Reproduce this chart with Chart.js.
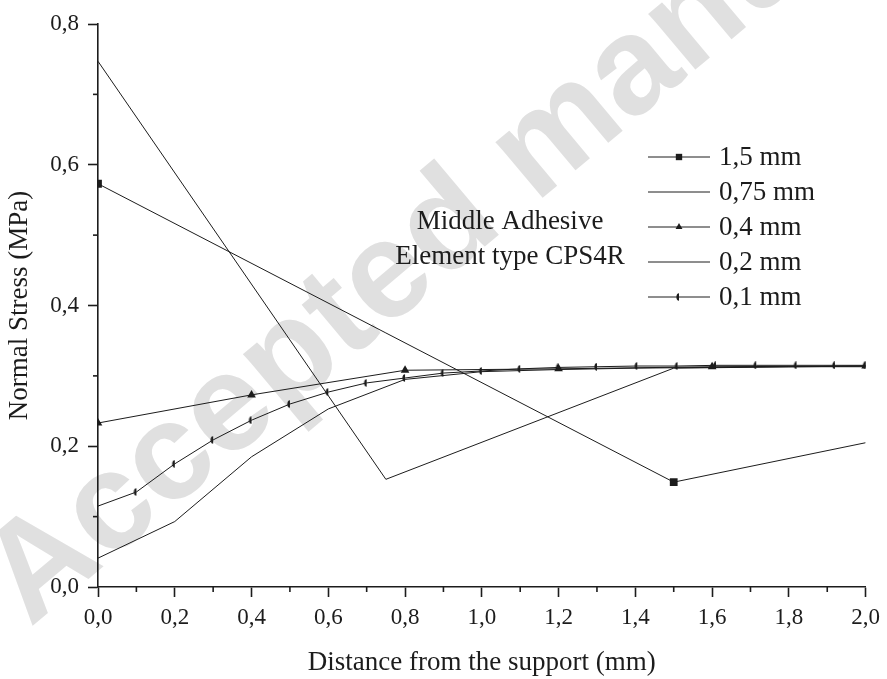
<!DOCTYPE html>
<html>
<head>
<meta charset="utf-8">
<script src="https://cdn.jsdelivr.net/npm/chart.js@4.4.1/dist/chart.umd.min.js"></script>
<style>
html, body { margin: 0; padding: 0; background: #fff; }
</style>
</head>
<body>
<canvas id="stressChart" width="887" height="679"></canvas>
<script>
// Data
const series_labels = ['1,5 mm', '0,75 mm', '0,4 mm', '0,2 mm', '0,1 mm']

const x_15 = [0, 1.5, 2.0]
const y_15 = [0.573, 0.149, 0.205]

const x_075 = [0, 0.75, 1.5, 2.0]
const y_075 = [0.747, 0.153, 0.311, 0.314]

const x_04 = [0, 0.4, 0.8, 1.2, 1.6, 2.0]
const y_04 = [0.233, 0.273, 0.308, 0.310, 0.313, 0.314]

const x_02 = [0, 0.2, 0.4, 0.6, 0.8, 1.0, 1.2, 1.4, 1.6, 1.8, 2.0]
const y_02 = [0.041, 0.093, 0.185, 0.253, 0.295, 0.306, 0.309, 0.311, 0.312, 0.313, 0.313]

const x_01 = [0, 0.1, 0.2, 0.3, 0.4, 0.5, 0.6, 0.7, 0.8, 0.9, 1.0, 1.1, 1.2, 1.3, 1.405, 1.51, 1.61, 1.715, 1.82, 1.92, 2.0]
const y_01 = [0.115, 0.135, 0.175, 0.209, 0.237, 0.260, 0.277, 0.290, 0.297, 0.304, 0.307, 0.310, 0.312, 0.313, 0.314, 0.314, 0.315, 0.315, 0.315, 0.315, 0.315]

const x_ticks = [0, 0.2, 0.4, 0.6, 0.8, 1.0, 1.2, 1.4, 1.6, 1.8, 2.0]
const y_ticks = [0, 0.2, 0.4, 0.6, 0.8]

const note_lines = ['Middle Adhesive', 'Element type CPS4R']
const watermark = 'Accepted manuscript'

const SERIF = '"Liberation Serif", "DejaVu Serif", serif'
const INK = '#1c1c1c'

const to_points = (xs, ys) => xs.map((x, i) => ({x: x, y: ys[i]}))
const is_major = v => Math.round(v * 10) % 2 === 0
const fmt = v => v.toFixed(1).replace('.', ',')

// half filled circle marker used for 0,1 mm
function half_dot() {
    const c = document.createElement('canvas')
    c.width = 8
    c.height = 8
    const g = c.getContext('2d')
    g.fillStyle = INK
    g.beginPath()
    g.ellipse(4, 4, 2.6, 3.8, 0, Math.PI / 2, Math.PI * 1.5)
    g.closePath()
    g.fill()
    return c
}
const dot_img = half_dot()

function make_set(label, pts, style, radius) {
    return {
        label: label,
        data: pts,
        borderColor: INK,
        backgroundColor: INK,
        borderWidth: 1,
        pointStyle: style,
        pointRadius: radius,
        pointBorderWidth: 0,
        pointHoverRadius: radius,
        tension: 0,
        clip: 0
    }
}

const datasets = [
    make_set(series_labels[0], to_points(x_15, y_15), 'rect', [5.5, 5.5, 0]),
    make_set(series_labels[1], to_points(x_075, y_075), false, 0),
    make_set(series_labels[2], to_points(x_04, y_04), 'triangle', 5),
    make_set(series_labels[3], to_points(x_02, y_02), false, 0),
    make_set(series_labels[4], to_points(x_01, y_01), dot_img, 4)
]

// watermark behind everything
const watermark_plugin = {
    id: 'watermark',
    beforeDraw(chart) {
        const ctx = chart.ctx
        ctx.save()
        ctx.translate(30, 628)
        ctx.rotate(-40 * Math.PI / 180)
        ctx.fillStyle = '#e0e0e0'
        ctx.font = 'bold 138px "Liberation Sans", Arial, sans-serif'
        ctx.textBaseline = 'alphabetic'
        ctx.fillText(watermark, 0, 0)
        ctx.restore()
    }
}

// minor ticks, note text and legend
const extras_plugin = {
    id: 'extras',
    afterDraw(chart) {
        const ctx = chart.ctx
        const xs = chart.scales.x
        const ys = chart.scales.y
        const area = chart.chartArea
        ctx.save()
        ctx.strokeStyle = INK
        ctx.lineWidth = 1.6
        for (let k = 1; k < 20; k += 2) {
            const px = xs.getPixelForValue(k / 10)
            ctx.beginPath()
            ctx.moveTo(px, area.bottom)
            ctx.lineTo(px, area.bottom + 5)
            ctx.stroke()
        }
        for (let k = 1; k < 8; k += 2) {
            const py = ys.getPixelForValue(k / 10)
            ctx.beginPath()
            ctx.moveTo(area.left - 5, py)
            ctx.lineTo(area.left, py)
            ctx.stroke()
        }

        ctx.fillStyle = INK
        ctx.font = '27px ' + SERIF
        ctx.textAlign = 'center'
        ctx.textBaseline = 'alphabetic'
        ctx.fillText(note_lines[0], 510, 229)
        ctx.fillText(note_lines[1], 510, 264)

        // legend
        const row0 = 157, gap = 35
        chart.data.datasets.forEach((ds, i) => {
            const y = row0 + i * gap
            ctx.strokeStyle = INK
            ctx.lineWidth = 1
            ctx.beginPath()
            ctx.moveTo(648, y)
            ctx.lineTo(710, y)
            ctx.stroke()
            const r = Array.isArray(ds.pointRadius) ? ds.pointRadius[0] : ds.pointRadius
            if (ds.pointStyle && r > 0) {
                Chart.helpers.drawPoint(ctx, {pointStyle: ds.pointStyle, radius: r - 1, borderWidth: 0}, 679, y)
            }
            ctx.fillStyle = INK
            ctx.textAlign = 'left'
            ctx.textBaseline = 'middle'
            ctx.fillText(ds.label, 719, y + 1)
        })
        ctx.restore()
    }
}

const axis_font = {family: SERIF, size: 23}

const stressChart = new Chart(document.getElementById('stressChart').getContext('2d'), {
    type: 'line',
    data: {datasets: datasets},
    options: {
        responsive: false,
        animation: false,
        events: [],
        layout: {padding: {left: 0, top: 24, right: 19, bottom: 0}},
        plugins: {legend: {display: false}, tooltip: {enabled: false}},
        scales: {
            x: {
                type: 'linear',
                min: 0,
                max: 2.0,
                border: {display: true, color: INK, width: 1.6},
                grid: {
                    drawOnChartArea: false,
                    drawTicks: true,
                    tickLength: 10,
                    tickWidth: 1.6,
                    tickColor: c => is_major(c.tick.value) ? INK : 'rgba(0,0,0,0)'
                },
                ticks: {
                    stepSize: 0.1,
                    autoSkip: false,
                    maxRotation: 0,
                    color: INK,
                    font: axis_font,
                    padding: 7,
                    callback: v => x_ticks.some(t => Math.abs(t - v) < 1e-6) ? fmt(v) : ''
                },
                title: {
                    display: true,
                    text: 'Distance from the support (mm)',
                    color: INK,
                    font: {family: SERIF, size: 27},
                    padding: {top: 0, bottom: 0}
                },
                afterFit: s => { s.height = 92 }
            },
            y: {
                type: 'linear',
                min: 0,
                max: 0.8,
                border: {display: true, color: INK, width: 1.6},
                grid: {
                    drawOnChartArea: false,
                    drawTicks: true,
                    tickLength: 10,
                    tickWidth: 1.6,
                    tickColor: c => is_major(c.tick.value) ? INK : 'rgba(0,0,0,0)'
                },
                ticks: {
                    stepSize: 0.1,
                    autoSkip: false,
                    color: INK,
                    font: axis_font,
                    padding: 9,
                    callback: v => y_ticks.some(t => Math.abs(t - v) < 1e-6) ? fmt(v) : ''
                },
                title: {
                    display: true,
                    text: 'Normal Stress (MPa)',
                    color: INK,
                    font: {family: SERIF, size: 27},
                    padding: {top: 4, bottom: 0}
                },
                afterFit: s => { s.width = 98 }
            }
        }
    },
    plugins: [watermark_plugin, extras_plugin]
})
</script>
</body>
</html>
